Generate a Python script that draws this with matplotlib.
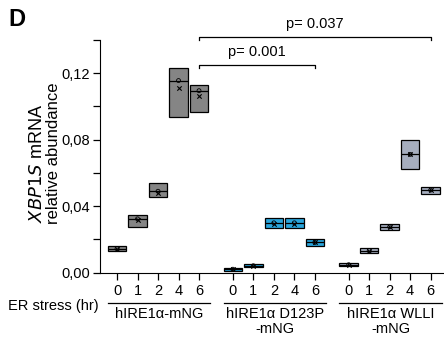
import numpy as np
import matplotlib
matplotlib.use("Agg")
import matplotlib.pyplot as plt
from matplotlib import transforms

plt.rcParams['font.family'] = ['Liberation Sans', 'DejaVu Sans']

hours = ['0', '1', '2', '4', '6']
groups = ['hIRE1\u03b1-mNG', 'hIRE1\u03b1 D123P\n-mNG', 'hIRE1\u03b1 WLLI\n-mNG']

# box bottom / top / median / mean per group, for 0,1,2,4,6 hr
wt_lo = [0.0132, 0.0275, 0.0457, 0.0936, 0.0964]
wt_hi = [0.0160, 0.0345, 0.0542, 0.1233, 0.1132]
wt_med = [0.0145, 0.0324, 0.0490, 0.1156, 0.1095]
wt_mean = [0.0145, 0.0315, 0.0481, 0.1110, 0.1063]

d123p_lo = [0.0012, 0.0033, 0.0269, 0.0269, 0.0162]
d123p_hi = [0.0030, 0.0051, 0.0327, 0.0327, 0.0202]
d123p_med = [0.0021, 0.0042, 0.0300, 0.0300, 0.0182]
d123p_mean = [0.0021, 0.0042, 0.0291, 0.0291, 0.0182]

wlli_lo = [0.0039, 0.0118, 0.0259, 0.0622, 0.0475]
wlli_hi = [0.0057, 0.0148, 0.0293, 0.0800, 0.0515]
wlli_med = [0.0048, 0.0133, 0.0276, 0.0712, 0.0497]
wlli_mean = [0.0048, 0.0133, 0.0276, 0.0712, 0.0497]

pvals = ['p= 0.001', 'p= 0.037']

colors = ['#858585', '#2aa5dc', '#a6aebf']
data = [(wt_lo, wt_hi, wt_med, wt_mean),
        (d123p_lo, d123p_hi, d123p_med, d123p_mean),
        (wlli_lo, wlli_hi, wlli_med, wlli_mean)]

fig = plt.figure(figsize=(4.44, 3.43), dpi=100)
ax = fig.add_axes([100/444, 70.3/343, 344/444, 232.7/343])

gap = 5.65
allx = []
for g, (lo, hi, med, mean) in enumerate(data):
    x = g*gap + np.arange(len(hours))
    allx += list(x)
    lo = np.array(lo); hi = np.array(hi)
    ax.bar(x, hi-lo, bottom=lo, width=0.9, color=colors[g], edgecolor='black', linewidth=0.9, zorder=2)
    ax.hlines(med, x-0.45, x+0.45, color='black', linewidth=0.9, zorder=3)
    ax.scatter(x, med, s=8, facecolor='none', edgecolor='black', linewidth=0.6, zorder=4)
    ax.scatter(x, mean, marker='x', s=10, color='black', linewidth=0.8, zorder=4)

ax.set_xlim(-0.83, 15.95)
ax.set_ylim(0, 0.14)
ax.spines['top'].set_visible(False)
ax.spines['right'].set_visible(False)
ax.set_yticks([0, 0.04, 0.08, 0.12])
ax.set_yticklabels(['0,00', '0,04', '0,08', '0,12'])
ax.set_yticks([0.02, 0.06, 0.10, 0.14], minor=True)
ax.tick_params(axis='y', which='both', length=5, width=0.9, labelsize=10.5, pad=2)
ax.set_xticks(allx)
ax.set_xticklabels(hours*3)
ax.tick_params(axis='x', length=5, width=0.9, labelsize=10.5, pad=3)

# ER stress label
ax.text(-0.9, -0.016, 'ER stress (hr)', fontsize=10.5, ha='right', va='top')

# group underlines and labels
tr = transforms.blended_transform_factory(ax.transData, fig.transFigure)
for g, name in enumerate(groups):
    x0 = g*gap
    line = plt.Line2D([x0-0.45, x0+4.55], [1-302.7/343]*2, transform=tr, color='black', linewidth=0.9)
    fig.add_artist(line)
    fig.text(x0+2.05, 1-307/343, name, transform=tr, ha='center', va='top', fontsize=10.5, linespacing=1.1)

# significance brackets
x6 = [4, gap+4, 2*gap+4]
bk = [(x6[0], x6[1], 0.1248, pvals[0]), (x6[0], x6[2], 0.1416, pvals[1])]
for xa, xb, yb, lab in bk:
    ax.plot([xa, xa, xb, xb], [yb-0.0018, yb, yb, yb-0.0018], color='black', linewidth=0.9, clip_on=False)
    ax.text((xa+xb)/2, yb+0.004, lab, ha='center', va='bottom', fontsize=10.5)

# y label
fig.text(37/444, 1-163/343, r'$\it{XBP1S}$' + ' mRNA', rotation=90, ha='center', va='center', fontsize=13)
fig.text(54/444, 1-153/343, 'relative abundance', rotation=90, ha='center', va='center', fontsize=12)

fig.text(8/444, 1-8/343, 'D', fontsize=17, fontweight='bold', ha='left', va='top')

fig.savefig('out.png', dpi=100)
